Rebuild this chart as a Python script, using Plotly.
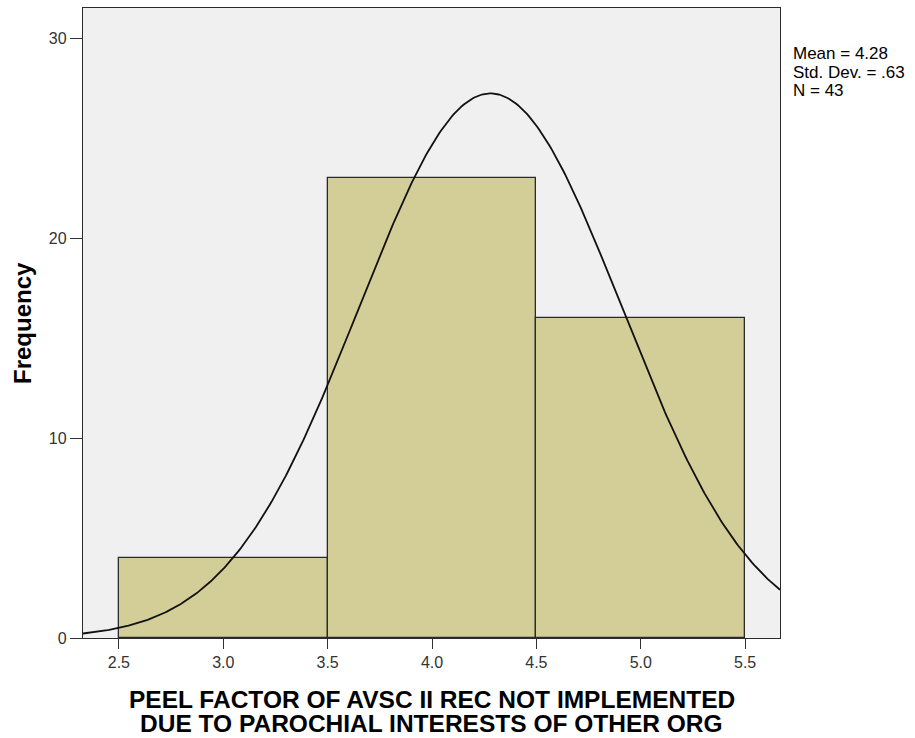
import numpy as np
import plotly.graph_objects as go

# Histogram bins (lower edge, upper edge) and counts
bin_left = [2.5, 3.5, 4.5]
bin_right = [3.5, 4.5, 5.5]
counts = [4, 23, 16]

# Summary statistics shown in the legend box
mean_val = 4.28
std_dev = 0.63
n_obs = 43

x_ticks = [2.5, 3.0, 3.5, 4.0, 4.5, 5.0, 5.5]
y_ticks = [0, 10, 20, 30]

x_range = [2.328, 5.667]
y_range = [0, 31.5]

x_title_lines = ["PEEL FACTOR OF AVSC II REC NOT IMPLEMENTED",
                 "DUE TO PAROCHIAL INTERESTS OF OTHER ORG"]
stats_lines = [f"Mean = {mean_val:.2f}",
               f"Std. Dev. = .{int(round(std_dev * 100)):02d}",
               f"N = {n_obs}"]

FONT = "Arial, Liberation Sans, sans-serif"
BAR_FILL = "#D3CD98"
EDGE = "#2b2b2b"

# Plot area in pixels: left 83, right 780, top 8, bottom 638
L, R, T, B = 83, 780, 8, 638


def px_x(px):
    return (px - L) / (R - L)


def px_y(py):
    return (B - py) / (B - T)


fig = go.Figure()

# Bars as contiguous histogram bins
centers = [(a + b) / 2 for a, b in zip(bin_left, bin_right)]
widths = [b - a for a, b in zip(bin_left, bin_right)]
fig.add_trace(go.Bar(
    x=centers, y=counts, width=widths,
    marker=dict(color=BAR_FILL, line=dict(color=EDGE, width=1.3)),
    hoverinfo="skip", showlegend=False,
))

# Fitted normal curve scaled to counts per unit-width bin
bin_width = widths[0]
xs = np.linspace(x_range[0], x_range[1], 400)
ys = n_obs * bin_width / (std_dev * np.sqrt(2 * np.pi)) * np.exp(-0.5 * ((xs - mean_val) / std_dev) ** 2)
fig.add_trace(go.Scatter(
    x=xs, y=ys, mode="lines",
    line=dict(color="#111111", width=1.8),
    hoverinfo="skip", showlegend=False,
))

annotations = []
for i, line in enumerate(x_title_lines):
    annotations.append(dict(
        text=line, xref="paper", yref="paper",
        x=0.5, y=px_y(699 + 24 * i), xanchor="center", yanchor="middle",
        showarrow=False,
        font=dict(family=FONT, size=24.5, color="#000000", weight="bold"),
    ))
annotations.append(dict(
    text="Frequency", xref="paper", yref="paper",
    x=px_x(22), y=0.5, xanchor="center", yanchor="middle",
    textangle=-90, showarrow=False,
    font=dict(family=FONT, size=24, color="#000000", weight="bold"),
))
for i, line in enumerate(stats_lines):
    annotations.append(dict(
        text=line, xref="paper", yref="paper",
        x=px_x(791), y=px_y(54 + 18.5 * i), xanchor="left", yanchor="middle",
        showarrow=False,
        font=dict(family=FONT, size=17, color="#000000"),
    ))

fig.update_layout(
    width=915, height=738,
    margin=dict(l=L, r=915 - R, t=T, b=738 - B),
    paper_bgcolor="white",
    plot_bgcolor="#F0F0F0",
    bargap=0,
    font=dict(family=FONT, color="#333333", size=16),
    xaxis=dict(
        range=x_range, tickvals=x_ticks, tickformat=".1f",
        ticks="outside", ticklen=10, tickwidth=1.3, tickcolor="#333333",
        showgrid=False, zeroline=False,
        showline=True, linecolor=EDGE, linewidth=1.3, mirror=True,
        tickfont=dict(size=16, color="#333333"),
    ),
    yaxis=dict(
        range=y_range, tickvals=y_ticks,
        ticks="outside", ticklen=12, tickwidth=1.3, tickcolor="#333333",
        showgrid=False, zeroline=False,
        showline=True, linecolor=EDGE, linewidth=1.3, mirror=True,
        tickfont=dict(size=16, color="#333333"),
    ),
    annotations=annotations,
)

fig.write_html("out.html")
